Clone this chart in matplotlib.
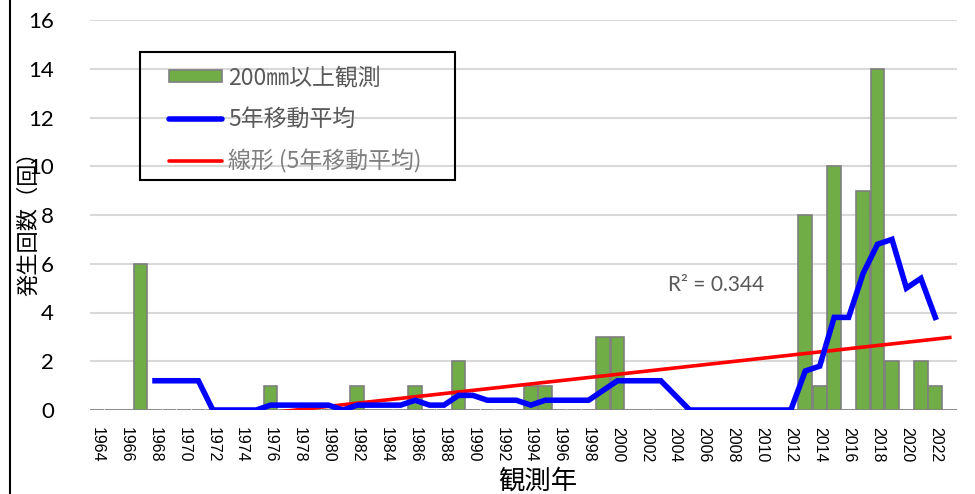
import matplotlib
matplotlib.use('Agg')
from matplotlib import pyplot as plt
from matplotlib.patches import Rectangle, Patch
from matplotlib.lines import Line2D
import numpy as np

years = list(range(1964, 2024))
counts = [0, 0, 0, 6, 0, 0, 0, 0, 0, 0,
          0, 0, 1, 0, 0, 0, 0, 0, 1, 0,
          0, 0, 1, 0, 0, 2, 0, 0, 0, 0,
          1, 1, 0, 0, 0, 3, 3, 0, 0, 0,
          0, 0, 0, 0, 0, 0, 0, 0, 0, 8,
          1, 10, 0, 9, 14, 2, 0, 2, 1, 0]
moving_avg = [None, None, None, None, 1.2, 1.2, 1.2, 1.2, 0, 0,
              0, 0, 0.2, 0.2, 0.2, 0.2, 0.2, 0, 0.2, 0.2,
              0.2, 0.2, 0.4, 0.2, 0.2, 0.6, 0.6, 0.4, 0.4, 0.4,
              0.2, 0.4, 0.4, 0.4, 0.4, 0.8, 1.2, 1.2, 1.2, 1.2,
              0.6, 0, 0, 0, 0, 0, 0, 0, 0, 1.6,
              1.8, 3.8, 3.8, 5.6, 6.8, 7.0, 5.0, 5.4, 3.8, None]
tick_years = list(range(1964, 2023, 2))

cjk = ['Noto Sans CJK JP', 'DejaVu Sans']

fig = plt.figure(figsize=(9.75, 4.94), dpi=100)
ax = fig.add_axes([90/975, 1-410/494, (957-90)/975, (410-20)/494])

x = np.arange(len(years))
ax.bar(x, counts, width=0.95, color='#70AD47', edgecolor='#7F7F7F', linewidth=1.2, zorder=2)

ma = np.array([np.nan if v is None else v for v in moving_avg])
ax.plot(x, ma, color='#0000FF', linewidth=4, zorder=4, solid_joinstyle='miter')

# linear trend of the moving average
ok = ~np.isnan(ma)
slope, icpt = np.polyfit(x[ok], ma[ok], 1)
xt = np.array([0, len(years) - 1])
ax.plot(xt, slope*xt + icpt, color='#FF0000', linewidth=2.6, zorder=3)

ax.set_xlim(-0.5, len(years) - 0.5)
ax.set_ylim(0, 16)
ax.set_yticks(range(0, 17, 2))
ax.set_xticks([years.index(y) for y in tick_years])
ax.set_xticklabels([str(y) for y in tick_years], rotation=-90, fontsize=11.5,
                   family='Liberation Sans')
for lab in ax.get_yticklabels():
    lab.set_family('Lato')
    lab.set_fontsize(16)
ax.tick_params(axis='both', length=0)
ax.tick_params(axis='y', pad=26)
ax.tick_params(axis='x', pad=12)
ax.grid(axis='y', color='#D9D9D9', linewidth=1.5, zorder=0)
ax.set_axisbelow(True)
for s in ax.spines.values():
    s.set_visible(False)

fig.text(668/975, 1-285/494, 'R² = 0.344', fontsize=15, family='Lato',
         color='#595959', va='center', ha='left')

fig.text(29/975, 1-218/494, '発生回数（回）', rotation=90, fontsize=16,
         family=cjk, va='center', ha='center')
fig.text(538/975, 1-481/494, '観測年', fontsize=19, family=cjk,
         va='center', ha='center')

# legend box
fig.patches.append(Rectangle((140/975, 1-180/494), 315/975, 128/494,
                             transform=fig.transFigure, fill=False,
                             edgecolor='black', linewidth=1.5, zorder=5))
handles = [Patch(facecolor='#70AD47', edgecolor='#7F7F7F', linewidth=1.2),
           Line2D([], [], color='#0000FF', linewidth=4, solid_capstyle='round'),
           Line2D([], [], color='#FF0000', linewidth=2.6, solid_capstyle='round')]
labels = ['200㎜以上観測', '5年移動平均', '線形 (5年移動平均)']
leg = fig.legend(handles, labels, loc='upper left',
                 bbox_to_anchor=(158/975, 1-55/494), frameon=False,
                 borderpad=0, handlelength=2.3, handleheight=0.45,
                 handletextpad=0.25, labelspacing=0.8,
                 prop={'family': cjk, 'size': 16.5})
cols = ['#595959', '#595959', '#7F7F7F']
for t, c in zip(leg.get_texts(), cols):
    t.set_color(c)

fig.add_artist(Line2D([10/975, 10/975], [0, 1], transform=fig.transFigure,
                      color='black', linewidth=1.5))

fig.savefig('out.png', dpi=100)
